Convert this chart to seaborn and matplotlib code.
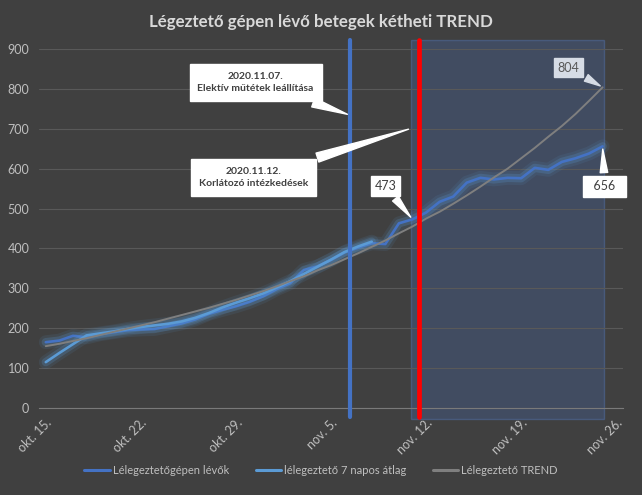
import matplotlib
matplotlib.use("Agg")
import matplotlib.pyplot as plt
import matplotlib.patheffects as pe
from matplotlib.lines import Line2D
import seaborn as sns
import pandas as pd
import numpy as np

# ---------------- data ----------------
tick_labels = ["okt. 15.", "okt. 22.", "okt. 29.", "nov. 5.", "nov. 12.", "nov. 19.", "nov. 26."]
tick_days = [0, 7, 14, 21, 28, 35, 42]

ventilated = [165, 169, 181, 177, 185, 190, 195, 197, 198, 205, 212, 222, 236, 246,
              255, 266, 280, 298, 313, 346, 355, 371, 390, 402, 413, 411, 463, 473,
              490, 517, 530, 565, 577, 573, 577, 576, 602, 597, 617, 626, 638, 656]
avg7 = [115, 138, 160, 182, 187, 192, 198, 203, 207, 211, 217, 226, 238, 252, 264,
        275, 287, 302, 318, 336, 354, 372, 391, 405, 417]
trend = [155, 161, 168, 175, 183, 191, 199, 207, 215, 224, 233, 242, 251, 261, 271,
         282, 293, 305, 318, 330, 345, 358, 373, 388, 404, 420, 438, 455, 475, 492,
         512, 533, 555, 578, 600, 626, 652, 680, 707, 737, 770, 804]

series_names = ["Lélegeztetőgépen lévők", "lélegeztető 7 napos átlag", "Lélegeztető TREND"]

event_elective_day = 22.4
event_restrict_day = 27.5
forecast_span = (26.9, 41.1)

days = list(range(len(ventilated)))
df = pd.DataFrame({
    "day": days,
    "vent": ventilated,
    "avg": avg7 + [np.nan] * (len(days) - len(avg7)),
    "trend": trend,
})

# ---------------- style ----------------
BG = "#404040"
sns.set_theme(style="dark")
plt.rcParams["font.family"] = ["Lato", "DejaVu Sans"]

fig = plt.figure(figsize=(6.42, 4.95), dpi=100, facecolor=BG)
ax = fig.add_axes([39 / 642, 1 - 408 / 495, (623 - 39) / 642, (408 - 49) / 495])
ax.set_facecolor(BG)

C_DARK = "#4472C4"
C_LIGHT = "#5B9BD5"
C_GRAY = "#7f7f7f"

# forecast shading
ax.axvspan(*forecast_span, ymin=-0.031, ymax=1.025, clip_on=False,
           facecolor=(0.27, 0.45, 0.77, 0.25), edgecolor=(0.35, 0.5, 0.8, 0.35),
           linewidth=1.0, zorder=0.5)

glow = [pe.Stroke(linewidth=10, foreground=C_LIGHT, alpha=0.10),
        pe.Stroke(linewidth=6, foreground=C_LIGHT, alpha=0.22),
        pe.Normal()]

sns.lineplot(data=df, x="day", y="vent", ax=ax, color=C_DARK, linewidth=1.9, zorder=3)
ax.lines[-1].set_path_effects(glow)
sns.lineplot(data=df, x="day", y="avg", ax=ax, color=C_LIGHT, linewidth=1.9, zorder=3)
ax.lines[-1].set_path_effects(glow)
sns.lineplot(data=df, x="day", y="trend", ax=ax, color=C_GRAY, linewidth=1.4, zorder=3)

# event lines
ax.axvline(event_elective_day, ymin=-0.025, ymax=1.025, clip_on=False,
           color=C_DARK, linewidth=3.0, zorder=4)
ax.axvline(event_restrict_day, ymin=-0.025, ymax=1.025, clip_on=False,
           color="#FF0000", linewidth=3.4, zorder=4)

# axes
ax.set_xlim(-0.5, 42.5)
ax.set_ylim(0, 900)
ax.set_yticks(range(0, 901, 100))
ax.set_xticks(tick_days)
ax.set_xticklabels(tick_labels, rotation=45, ha="right", rotation_mode="anchor")
ax.set_xticks(np.arange(-0.5, 43, 1), minor=True)
ax.set_xlabel("")
ax.set_ylabel("")
ax.grid(axis="y", color="#595959", linewidth=0.8, zorder=0)
ax.grid(axis="x", visible=False)
for s in ["left", "right", "top"]:
    ax.spines[s].set_visible(False)
ax.spines["bottom"].set_visible(True)
ax.spines["bottom"].set_color("#7a7a7a")
ax.spines["bottom"].set_linewidth(0.8)
ax.tick_params(axis="y", colors="#bfbfbf", labelsize=9, length=0, pad=7)
ax.tick_params(axis="x", which="major", colors="#bfbfbf", labelsize=9, length=0, pad=6)
ax.tick_params(axis="x", which="minor", color="#7a7a7a", direction="inout", length=5, width=0.8)

# callouts
wedge = dict(arrowstyle="wedge,tail_width=0.9,shrink_factor=0.5", fc="white", ec="white")
ax.annotate("2020.11.07.\nElektív műtétek leállítása", xy=(event_elective_day, 734),
            xytext=(15.45, 816), ha="center", va="center", fontsize=7.5, fontweight="bold",
            color="#404040", linespacing=1.5,
            bbox=dict(boxstyle="square,pad=0.75", fc="white", ec="white"),
            arrowprops=wedge, zorder=6, annotation_clip=False)
ax.annotate("2020.11.12.\nKorlátozó intézkedések", xy=(26.9, 701),
            xytext=(15.3, 578), ha="center", va="center", fontsize=7.5, fontweight="bold",
            color="#404040", linespacing=1.5,
            bbox=dict(boxstyle="square,pad=0.75", fc="white", ec="white"),
            arrowprops=wedge, zorder=6, annotation_clip=False)

small_wedge = dict(arrowstyle="wedge,tail_width=0.6,shrink_factor=0.5", fc="white", ec="white")
ax.annotate(str(ventilated[27]), xy=(27, ventilated[27]), xytext=(25.0, 556),
            ha="center", va="center", fontsize=9, color="#404040",
            bbox=dict(boxstyle="square,pad=0.3", fc="white", ec="white"),
            arrowprops=small_wedge, zorder=6, annotation_clip=False)
ax.annotate(str(trend[-1]), xy=(41, trend[-1]), xytext=(38.5, 853),
            ha="center", va="center", fontsize=9, color="#595959",
            bbox=dict(boxstyle="square,pad=0.3", fc="#d6dce5", ec="#d6dce5"),
            arrowprops=dict(arrowstyle="wedge,tail_width=0.6,shrink_factor=0.5",
                            fc="#d6dce5", ec="#d6dce5"),
            zorder=6, annotation_clip=False)
ax.annotate("  " + str(ventilated[-1]) + "  ", xy=(41, ventilated[-1]), xytext=(41.15, 556),
            ha="center", va="center", fontsize=9, color="#404040",
            bbox=dict(boxstyle="square,pad=0.35", fc="white", ec="white"),
            arrowprops=small_wedge, zorder=6, annotation_clip=False)

# title
fig.text(0.5, 0.955, "Légeztető gépen lévő betegek kétheti TREND", ha="center", va="center",
         fontsize=12.2, fontweight="bold", color="#d9d9d9")

# legend
handles = [Line2D([], [], color=C_DARK, linewidth=2.2),
           Line2D([], [], color=C_LIGHT, linewidth=2.2),
           Line2D([], [], color=C_GRAY, linewidth=2.2)]
leg = fig.legend(handles, series_names, loc="center", bbox_to_anchor=(0.5, 0.05), ncol=3,
                 frameon=False, fontsize=8, handlelength=2.3, handletextpad=0.25,
                 columnspacing=2.4)
for t in leg.get_texts():
    t.set_color("#bfbfbf")

fig.savefig("out.png", dpi=100, facecolor=BG)
